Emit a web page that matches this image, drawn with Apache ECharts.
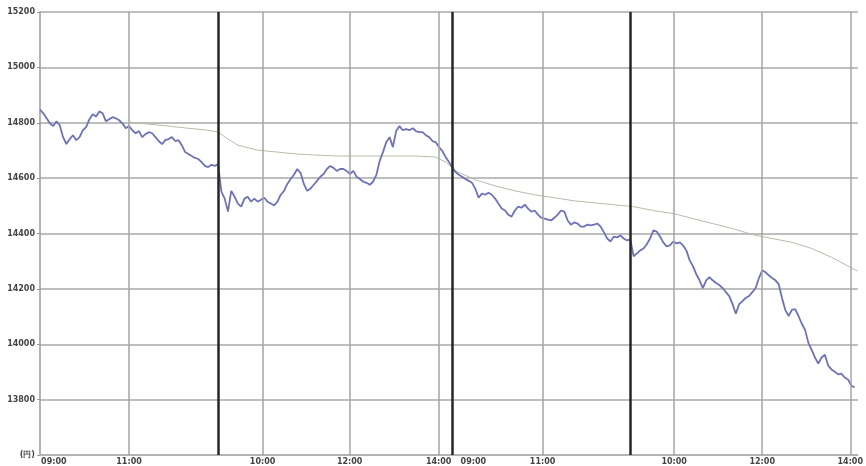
<!DOCTYPE html>
<html>
<head>
<meta charset="utf-8">
<title>chart</title>
<script src="https://cdn.jsdelivr.net/npm/echarts@6/dist/echarts.min.js"></script>
<style>
    html, body { margin: 0; padding: 0; background: #fff; }
    #chart { width: 866px; height: 466px; }
</style>
</head>
<body>
<div id="chart"></div>
<script>
// 株価（ティックごと）
var prices = [
    14848, 14834, 14816, 14798, 14788, 14805, 14791, 14748, 14723, 14741,
    14755, 14737, 14748, 14773, 14784, 14813, 14831, 14823, 14841, 14834,
    14805, 14813, 14820, 14816, 14809, 14798, 14780, 14788, 14773, 14762,
    14770, 14748, 14759, 14766, 14762, 14748, 14734, 14723, 14737, 14741,
    14748, 14734, 14737, 14719, 14694, 14687, 14680, 14673, 14669, 14658,
    14644, 14640, 14648, 14644, 14651, 14551, 14526, 14479, 14554, 14533,
    14508, 14497, 14526, 14533, 14515, 14526, 14515, 14522, 14529, 14515,
    14508, 14501, 14515, 14540, 14554, 14579, 14597, 14612, 14633, 14619,
    14579, 14554, 14562, 14576, 14590, 14605, 14615, 14633, 14644, 14637,
    14626, 14633, 14633, 14626, 14615, 14626, 14605, 14597, 14587, 14583,
    14576, 14587, 14612, 14662, 14694, 14730, 14748, 14712, 14770, 14788,
    14773, 14777, 14773, 14780, 14770, 14766, 14766, 14755, 14748, 14734,
    14730, 14712, 14698, 14676, 14658, 14640, 14622, 14612, 14605, 14597,
    14590, 14583, 14562, 14529, 14544, 14540, 14547, 14540, 14526, 14508,
    14490, 14483, 14468, 14461, 14483, 14497, 14493, 14504, 14490, 14479,
    14483, 14468, 14457, 14454, 14450, 14447, 14457, 14468, 14483, 14479,
    14447, 14432, 14440, 14436, 14425, 14425, 14432, 14429, 14432, 14436,
    14425, 14404, 14382, 14371, 14389, 14386, 14393, 14382, 14375, 14379,
    14318, 14328, 14339, 14346, 14361, 14382, 14411, 14407, 14389, 14368,
    14353, 14357, 14371, 14364, 14368, 14357, 14339, 14303, 14282, 14253,
    14231, 14203, 14231, 14242, 14231, 14221, 14214, 14203, 14188, 14174,
    14145, 14110, 14145, 14156, 14167, 14174, 14188, 14203, 14239, 14267,
    14260, 14249, 14239, 14231, 14217, 14167, 14124, 14102, 14124, 14127,
    14102, 14074, 14052, 14005, 13980, 13952, 13930, 13952, 13962, 13923,
    13909, 13901, 13891, 13894, 13880, 13873, 13851, 13844
];
// 移動平均
var maIdx = [27, 33, 39, 45, 51, 54, 57, 60, 66, 72, 78, 84, 90, 96, 102, 108, 114, 120, 123, 126,
    132, 138, 144, 150, 156, 162, 168, 174, 180, 186, 192, 198, 204, 210, 216, 222, 228, 234, 240, 248];
var maValues = [14802, 14795, 14788, 14780, 14773, 14766, 14741, 14719, 14701, 14694, 14687, 14683,
    14680, 14680, 14680, 14680, 14680, 14676, 14658, 14626, 14594, 14572, 14554, 14540, 14529, 14518,
    14511, 14504, 14497, 14483, 14472, 14454, 14436, 14418, 14396, 14382, 14368, 14346, 14314, 14264];
// 時間目盛り
var hourLines = [27, 67.5, 93.9, 120.9, 152.4, 192.3, 219, 245.7];
var dayLines = [54.15, 125.1, 179.1];
var xLabelPos = [4.2, 27, 67.5, 93.9, 120.9, 131.4, 152.4, 192.3, 219, 245.7];
var xLabelText = ['09:00', '11:00', '10:00', '12:00', '14:00', '09:00', '11:00', '10:00', '12:00', '14:00'];
var yMin = 13600, yMax = 15200, yStep = 200;

var chart = echarts.init(document.getElementById('chart'));

var lineData = [];
hourLines.forEach(function (v) {
    lineData.push({ xAxis: v, lineStyle: { color: '#a4a4a4', width: 1.5, type: 'solid' } });
});
dayLines.forEach(function (v) {
    lineData.push({ xAxis: v, lineStyle: { color: '#262626', width: 2.5, type: 'solid' } });
});

var option = {
    backgroundColor: '#fff',
    animation: false,
    grid: {
        left: 40,
        right: 0,
        top: 12,
        bottom: 8
    },
    xAxis: {
        type: 'value',
        min: 0,
        max: 248,
        splitLine: { show: false },
        axisTick: { show: false },
        axisLine: { show: true, lineStyle: { color: '#b0b0b0', width: 1.5 } },
        axisLabel: {
            customValues: xLabelPos,
            showMinLabel: true,
            showMaxLabel: true,
            hideOverlap: false,
            margin: 3,
            fontSize: 8,
            fontWeight: 'bold',
            fontFamily: 'DejaVu Sans',
            color: '#444',
            formatter: function (val) {
                var k = xLabelPos.indexOf(val);
                return k >= 0 ? xLabelText[k] : '';
            }
        }
    },
    yAxis: {
        type: 'value',
        min: yMin,
        max: yMax,
        interval: yStep,
        axisLine: { show: true, lineStyle: { color: '#9a9a9a', width: 1.5 } },
        axisTick: { show: true, length: 3, lineStyle: { color: '#9a9a9a' } },
        splitLine: { show: true, lineStyle: { color: '#a8a8a8', width: 1.5 } },
        axisLabel: {
            margin: 5,
            fontSize: 8,
            fontWeight: 'bold',
            fontFamily: 'DejaVu Sans',
            color: '#444',
            formatter: function (val) {
                return val === yMin ? '(円)' : String(val);
            }
        }
    },
    series: [{
        name: '移動平均',
        type: 'line',
        showSymbol: false,
        lineStyle: { color: '#b3bfaa', width: 1 },
        data: maIdx.map(function (x, k) { return [x, maValues[k]]; })
    }, {
        name: '株価',
        type: 'line',
        showSymbol: false,
        lineStyle: { color: '#6e72b8', width: 1.8 },
        data: prices.map(function (v, i) { return [i, v]; }),
        markLine: {
            silent: true,
            symbol: ['none', 'none'],
            label: { show: false },
            data: lineData
        }
    }]
};
chart.setOption(option);
</script>
</body>
</html>
